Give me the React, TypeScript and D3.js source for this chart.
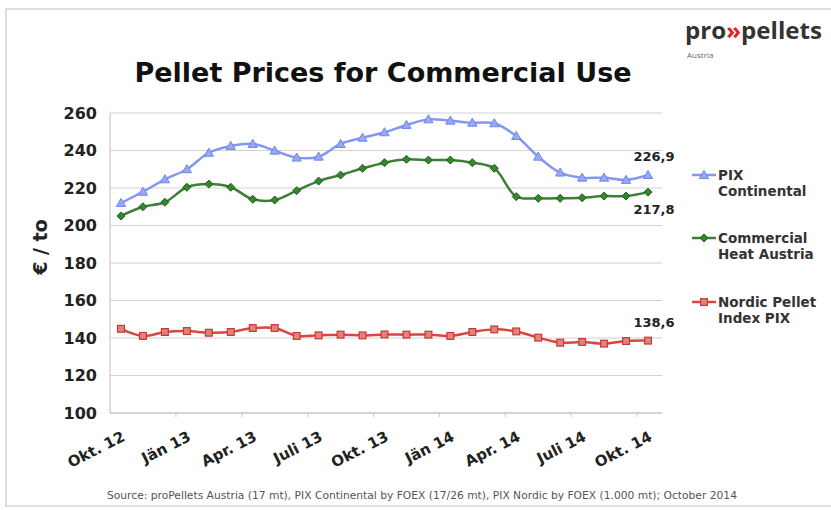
import React from "react";
import * as d3 from "d3";

const months = [
  "Okt. 12","Nov. 12","Dez. 12","Jän 13","Feb. 13","Mär. 13","Apr. 13","Mai 13","Juni 13",
  "Juli 13","Aug. 13","Sep. 13","Okt. 13","Nov. 13","Dez. 13","Jän 14","Feb. 14","Mär. 14",
  "Apr. 14","Mai 14","Juni 14","Juli 14","Aug. 14","Sep. 14","Okt. 14",
];
const tickLabels = ["Okt. 12","Jän 13","Apr. 13","Juli 13","Okt. 13","Jän 14","Apr. 14","Juli 14","Okt. 14"];
const yTicks = [100, 120, 140, 160, 180, 200, 220, 240, 260];

const pixContinental = [212, 218, 224.6, 230, 238.8, 242.4, 243.5, 239.9, 236.2, 236.7, 243.5, 246.8, 249.7, 253.6, 256.6, 255.9, 254.8, 254.5, 247.7, 236.7, 228.2, 225.5, 225.5, 224.3, 226.9];
const commercialHeat = [205.1, 210, 212.4, 220.4, 222.1, 220.4, 214, 213.6, 218.6, 223.7, 226.9, 230.5, 233.5, 235.3, 234.9, 234.9, 233.5, 230.5, 215.4, 214.5, 214.5, 214.8, 215.7, 215.7, 217.8];
const nordicPix = [144.9, 141.1, 143.2, 143.7, 142.8, 143.2, 145.3, 145.3, 141.1, 141.4, 141.8, 141.4, 141.9, 141.8, 141.8, 141.1, 143.2, 144.6, 143.5, 140.2, 137.5, 137.9, 137.0, 138.4, 138.6];

const lastLabels = ["226,9", "217,8", "138,6"];

const FONT = "'DejaVu Sans', Verdana, sans-serif";

type Series = { name: string[]; values: number[]; color: string; stroke: string; fill: string; marker: "tri" | "dia" | "sq"; labelDy: number };

const series: Series[] = [
  { name: ["PIX", "Continental"], values: pixContinental, color: "#8497f2", stroke: "#6f84ec", fill: "#98a8f5", marker: "tri", labelDy: -14 },
  { name: ["Commercial", "Heat Austria"], values: commercialHeat, color: "#3f7d3a", stroke: "#215c1e", fill: "#2f8a2a", marker: "dia", labelDy: 22 },
  { name: ["Nordic Pellet", "Index PIX"], values: nordicPix, color: "#d9463e", stroke: "#c43a33", fill: "#e0837c", marker: "sq", labelDy: -14 },
];

function Marker({ kind, x, y, s }: { kind: string; x: number; y: number; s: Series }) {
  if (kind === "tri") {
    const r = 4.6;
    return <path d={`M${x},${y - r}L${x + r},${y + r * 0.75}L${x - r},${y + r * 0.75}Z`} fill={s.fill} stroke={s.stroke} strokeWidth={1} />;
  }
  if (kind === "dia") {
    const r = 4;
    return <path d={`M${x},${y - r}L${x + r},${y}L${x},${y + r}L${x - r},${y}Z`} fill={s.fill} stroke={s.stroke} strokeWidth={1} />;
  }
  const r = 3.4;
  return <rect x={x - r} y={y - r} width={2 * r} height={2 * r} fill={s.fill} stroke={s.stroke} strokeWidth={1.2} />;
}

export default function App() {
  const W = 831, H = 510;
  const x0 = 110, x1 = 659;
  const xBand = d3.scaleBand<number>().domain(d3.range(months.length)).range([x0, x1]).padding(0);
  const bw = xBand.bandwidth();
  const cx = (i: number) => (xBand(i) as number) + bw / 2;
  const y = d3.scaleLinear().domain([100, 260]).range([413, 113]);
  const line = d3.line<number>().x((_, i) => cx(i)).y((v) => y(v)).curve(d3.curveCatmullRom.alpha(0.5));

  const tickIdx = tickLabels.map((t) => months.indexOf(t));
  const boundaries = d3.range(3, months.length, 3).map((i) => xBand(i) as number);

  return (
    <svg width={W} height={H} style={{ position: "absolute", left: 0, top: 0, background: "#fff" }} fontFamily={FONT}>
      <rect x={6} y={9} width={840} height={497} fill="#fff" stroke="#d4d4d4" strokeWidth={1.5} />

      {/* logo */}
      <text x={685} y={39} fontFamily="'Open Sans', sans-serif" fontWeight="bold" fontSize={23} fill="#333" textLength={137} lengthAdjust="spacingAndGlyphs">
        pro<tspan fill="#e2231a">»</tspan>pellets
      </text>
      <text x={687} y={58} fontFamily="'Open Sans', sans-serif" fontSize={8} fill="#666">Austria</text>

      {/* title */}
      <text x={383} y={82} textAnchor="middle" fontWeight="bold" fontSize={27} fill="#111">Pellet Prices for Commercial Use</text>

      {/* grid */}
      {yTicks.map((t) => (
        <line key={t} x1={x0} x2={662} y1={y(t)} y2={y(t)} stroke="#d2d2d2" strokeWidth={1} />
      ))}
      <line x1={x0} x2={x0} y1={y(260)} y2={y(100)} stroke="#bdbdbd" strokeWidth={1} />
      <line x1={x0} x2={662} y1={y(100)} y2={y(100)} stroke="#bdbdbd" strokeWidth={1} />
      {boundaries.map((b, i) => (
        <line key={i} x1={b} x2={b} y1={y(100)} y2={y(100) + 4} stroke="#c8c8c8" strokeWidth={1} />
      ))}

      {/* y ticks */}
      {yTicks.map((t) => (
        <text key={t} x={97} y={y(t)} dy="0.36em" textAnchor="end" fontWeight="bold" fontSize={16} fill="#222">{t}</text>
      ))}
      <text transform="translate(47,247) rotate(-90)" textAnchor="middle" fontWeight="bold" fontSize={19} fill="#222">€ / to</text>

      {/* x labels */}
      {tickIdx.map((i, k) => (
        <text key={k} transform={`translate(${cx(i) + 5},${440}) rotate(-27)`} textAnchor="end" fontWeight="bold" fontSize={15} fill="#222">{tickLabels[k]}</text>
      ))}

      {/* series */}
      {series.map((s, si) => (
        <g key={si}>
          <path d={line(s.values) || ""} fill="none" stroke={s.color} strokeWidth={2.5} />
          {s.values.map((v, i) => (
            <Marker key={i} kind={s.marker} x={cx(i)} y={y(v)} s={s} />
          ))}
          <text x={cx(s.values.length - 1) + 6} y={y(s.values[s.values.length - 1]) + s.labelDy} textAnchor="middle" fontWeight="bold" fontSize={13} fill="#222">{lastLabels[si]}</text>
        </g>
      ))}

      {/* legend */}
      {series.map((s, si) => {
        const ly = [175, 238, 302][si];
        return (
          <g key={si}>
            <line x1={692} x2={716} y1={ly} y2={ly} stroke={s.color} strokeWidth={2.5} />
            <Marker kind={s.marker} x={704} y={ly} s={s} />
            <text x={718} y={ly} dy="0.36em" fontWeight="bold" fontSize={13.5} fill="#333">{s.name[0]}</text>
            <text x={718} y={ly + 16} dy="0.36em" fontWeight="bold" fontSize={13.5} fill="#333">{s.name[1]}</text>
          </g>
        );
      })}

      <text x={107} y={499} fontSize={10} fill="#555" textLength={630} lengthAdjust="spacingAndGlyphs">
        Source: proPellets Austria (17 mt), PIX Continental by FOEX (17/26 mt), PIX Nordic by FOEX (1.000 mt); October 2014
      </text>
    </svg>
  );
}
